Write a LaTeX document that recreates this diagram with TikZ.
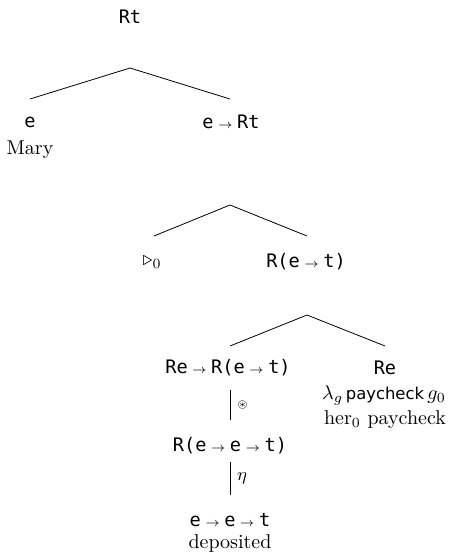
\documentclass[tikz,border=0pt]{standalone}
\usepackage{amssymb}
\usepackage{fontspec}
\newfontfamily\tyfont{DejaVu Sans Mono}[Scale=0.93]
\newfontfamily\wdfont{DejaVu Sans}[Scale=0.82]
\newcommand{\arr}{\hspace{2.2pt}{\fontsize{6}{6}\selectfont$\rightarrow$}\hspace{2.2pt}}

\begin{document}
\begin{tikzpicture}[
    x=0.5pt, y=-0.5pt,
    typ/.style={inner sep=1pt, font=\tyfont},
    mot/.style={inner sep=1pt},
    branche/.style={thin},
    regle/.style={thin}
]
    \useasboundingbox (0,0) rectangle (453,559);

    % top level
    \node[typ] (rt) at (130,17) {Rt};
    \coordinate (a1) at (130,68);
    \coordinate (g1) at (30,99);
    \coordinate (d1) at (230,99);
    \node[typ] (e) at (30,122) {e};
    \node[mot] (mary) at (30,150) {Mary};
    \node[typ] (ert) at (231,122) {e\arr Rt};
    \draw[branche] (g1) -- (a1) -- (d1);

    % second level
    \coordinate (a2) at (230,205);
    \coordinate (g2) at (154,236);
    \coordinate (d2) at (307,236);
    \node[mot] (tri) at (152,262) {$\triangleright_0$};
    \node[typ] (ret) at (306,262) {R(e\arr t)};
    \draw[branche] (g2) -- (a2) -- (d2);

    % third level
    \coordinate (a3) at (307,315);
    \coordinate (g3) at (230,346);
    \coordinate (d3) at (385,346);
    \node[typ] (rere) at (228,368) {Re\arr R(e\arr t)};
    \node[typ] (re) at (385,368) {Re};
    \node[mot] (lam) at (384,395) {$\lambda_g${\wdfont\,paycheck}\,$g_0$};
    \node[mot] (her) at (385,420) {her$_0$ paycheck};
    \draw[branche] (g3) -- (a3) -- (d3);

    % unary steps
    \coordinate (h1) at (230,390);
    \coordinate (b1) at (230,420);
    \node[typ] (reet) at (230,446) {R(e\arr e\arr t)};
    \coordinate (h2) at (230,462);
    \coordinate (b2) at (230,495);
    \node[typ] (eet) at (230,520) {e\arr e\arr t};
    \node[mot] (dep) at (230,543) {deposited};
    \draw[regle] (h1) -- (b1) node[midway, right, font=\tiny] {$\circledast$};
    \draw[regle] (h2) -- (b2) node[midway, right, font=\small] {$\eta$};
\end{tikzpicture}
\end{document}
